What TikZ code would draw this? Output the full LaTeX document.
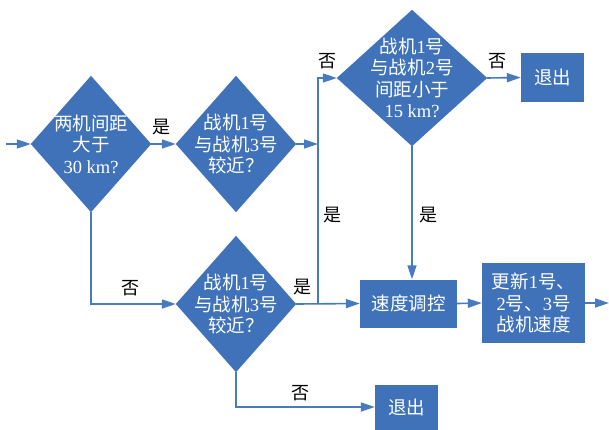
\documentclass[tikz,border=0pt]{standalone}
\usepackage{fontspec}
\setmainfont{Liberation Serif}
\newfontfamily\cjk{Noto Sans CJK SC}
\usetikzlibrary{arrows.meta,backgrounds}
\definecolor{boxblue}{RGB}{63,114,184}
\definecolor{lineblue}{RGB}{72,122,192}
\begin{document}
\begin{tikzpicture}[x=1pt,y=-1pt,
  txt/.style={text=white,align=center,inner sep=0pt,font=\fontsize{18.5}{21.5}\selectfont},
  dia/.style={txt,minimum width=#1,minimum height=136pt},
  rbox/.style={txt,fill=boxblue},
  conn/.style={draw=lineblue,line width=1.6pt},
  arr/.style={conn,-{Triangle[length=14pt,width=9pt]}},
  lab/.style={font=\fontsize{18}{20}\selectfont\cjk,inner sep=0pt,text=black}]
\useasboundingbox (0,0) rectangle (609,429);
\node[dia=120pt] (d1) at (91,144) {{\cjk 两机间距}\\{\cjk 大于}\\30 km?};
\node[dia=120pt] (d2) at (236,144) {{\cjk 战机}1{\cjk 号}\\{\cjk 与战机}3{\cjk 号}\\{\cjk 较近？}};
\node[dia=150pt] (d3) at (412,78) {{\cjk 战机}1{\cjk 号}\\{\cjk 与战机}2{\cjk 号}\\{\cjk 间距小于}\\15 km?};
\node[dia=120pt] (d4) at (236,304) {{\cjk 战机}1{\cjk 号}\\{\cjk 与战机}3{\cjk 号}\\{\cjk 较近？}};
\node[rbox,minimum width=63pt,minimum height=49pt] (exit1) at (552.5,77.5) {\cjk 退出};
\node[rbox,minimum width=97pt,minimum height=48pt] (speed) at (408.5,303.5) {\cjk 速度调控};
\node[rbox,minimum width=103pt,minimum height=80pt] (upd) at (533.5,303) {{\cjk 更新}1{\cjk 号、}\\2{\cjk 号、}3{\cjk 号}\\{\cjk 战机速度}};
\node[rbox,minimum width=63pt,minimum height=45pt] (exit2) at (406.5,407) {\cjk 退出};
\begin{scope}[on background layer]
  \foreach \d in {d1,d2,d3,d4}
    \fill[boxblue] (\d.west) -- (\d.north) -- (\d.east) -- (\d.south) -- cycle;
\end{scope}
\coordinate (in) at (6,144);
\coordinate (j1) at (318,144);
\coordinate (j2) at (318,304);
\coordinate (out) at (609,303);
\draw[arr] (in) -- (d1.west);
\draw[arr] (d1.east) -- (d2.west);
\draw[arr] (d2.east) -- (j1);
\draw[arr] (j2) |- (d3.west);
\draw[arr] (d3.east) -- (exit1.west);
\draw[arr] (d3.south) -- (d3.south |- speed.north);
\draw[arr] (d1.south) |- (d4.west);
\draw[arr] (d4.east) -- (speed.west);
\draw[arr] (d4.south) |- (exit2.west);
\draw[arr] (speed.east) -- (upd.west);
\draw[arr] (upd.east) -- (out);
\node[lab] (l1) at (161,127) {是};
\node[lab] (l2) at (327,61) {否};
\node[lab] (l3) at (497,61) {否};
\node[lab] (l4) at (332,215) {是};
\node[lab] (l5) at (428,215) {是};
\node[lab] (l6) at (302,287) {是};
\node[lab] (l7) at (130,288) {否};
\node[lab] (l8) at (300,393) {否};
\end{tikzpicture}
\end{document}
